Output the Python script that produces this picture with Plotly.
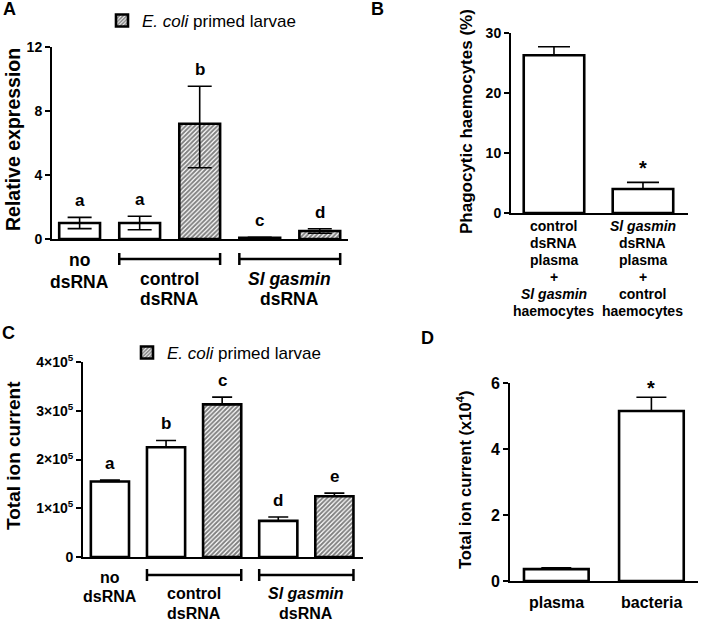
import plotly.graph_objects as go

W, H = 701, 621
FONT = "Arial, Liberation Sans, sans-serif"

# ---------------- data ----------------
# Panel A: relative expression
a_values = [1.0, 1.0, 7.2, 0.08, 0.5]
a_err_plus = [0.35, 0.42, 2.35, 0.02, 0.14]
a_err_minus = [0.35, 0.42, 2.75, 0.02, 0.14]
a_hatched = [False, False, True, False, True]
a_letters = ["a", "a", "b", "c", "d"]
a_ticks = [0, 4, 8, 12]

# Panel B: phagocytic haemocytes (%)
b_values = [26.3, 4.0]
b_err = [1.4, 1.1]
b_marks = ["", "*"]
b_labels = [
    ["control", "dsRNA", "plasma", "+", "<i>Sl gasmin</i>", "haemocytes"],
    ["<i>Sl gasmin</i>", "dsRNA", "plasma", "+", "control", "haemocytes"],
]
b_ticks = [0, 10, 20, 30]

# Panel C: total ion current
c_values = [1.55e5, 2.25e5, 3.13e5, 0.74e5, 1.245e5]
c_err = [0.03e5, 0.14e5, 0.15e5, 0.08e5, 0.065e5]
c_hatched = [False, False, True, False, True]
c_letters = ["a", "b", "c", "d", "e"]
c_ticks = [0, 1e5, 2e5, 3e5, 4e5]
c_ticktext = ["0", "1×10<sup>5</sup>", "2×10<sup>5</sup>", "3×10<sup>5</sup>", "4×10<sup>5</sup>"]

# Panel D: total ion current (x10^4)
d_values = [0.36, 5.15]
d_err = [0.04, 0.42]
d_marks = ["", "*"]
d_labels = ["plasma", "bacteria"]
d_ticks = [0, 2, 4, 6]

# group labels (panels A and C)
group_labels = [
    (0, ["no", "dsRNA"], False),
    (1.5, ["control", "dsRNA"], True),
    (3.5, ["<i>Sl gasmin</i>", "dsRNA"], True),
]
legend_text = "<i>E. coli</i> primed larvae"

# ---------------- helpers ----------------
def fx(px):
    return px / W

def fy(py):
    return 1 - py / H

BAR_W = 0.68
fig = go.Figure()

def add_bars(xref, yref, values, errp, errm, hatched, cap, legend=None):
    idx = list(range(len(values)))
    for hatch in (False, True):
        sel = [i for i in idx if hatched[i] == hatch]
        if not sel:
            continue
        marker = dict(color="white", line=dict(color="black", width=2.6))
        if hatch:
            marker["pattern"] = dict(shape="/", fgcolor="black", bgcolor="white",
                                     size=3.2, solidity=0.6)
        fig.add_trace(go.Bar(
            x=sel, y=[values[i] for i in sel], width=BAR_W,
            xaxis=xref, yaxis=yref, marker=marker,
            error_y=dict(type="data", symmetric=False,
                         array=[errp[i] for i in sel],
                         arrayminus=[errm[i] for i in sel],
                         color="black", thickness=1.6, width=cap),
            name=legend_text, hoverinfo="skip",
            showlegend=bool(hatch and legend), legend=legend if legend else "legend",
        ))

add_bars("x", "y", a_values, a_err_plus, a_err_minus, a_hatched, 12, legend="legend")
add_bars("x2", "y2", b_values, b_err, [0] * 2, [False, False], 16)
add_bars("x3", "y3", c_values, c_err, [0] * 5, c_hatched, 10, legend="legend2")
add_bars("x4", "y4", d_values, d_err, [0] * 2, [False, False], 15)

def xaxis(dom, rng, anchor):
    return dict(domain=[fx(dom[0]), fx(dom[1])], range=rng, anchor=anchor,
                showline=True, linewidth=2, linecolor="black", ticks="",
                showticklabels=False, showgrid=False, zeroline=False, fixedrange=True)

def yaxis(dom, rng, anchor, tickvals, size, ticktext=None):
    d = dict(domain=[fy(dom[1]), fy(dom[0])], range=rng, anchor=anchor,
             showline=True, linewidth=2, linecolor="black", ticks="outside",
             ticklen=5, tickwidth=2, tickcolor="black", tickvals=tickvals,
             tickfont=dict(family=FONT, size=size, color="black", weight="bold"),
             showgrid=False, zeroline=False, fixedrange=True, automargin=False)
    if ticktext:
        d["ticktext"] = ticktext
    return d

fig.update_layout(
    xaxis=xaxis((52, 348), [-0.46, 4.47], "y"),
    yaxis=yaxis((47, 239), [0, 12], "x", a_ticks, 14),
    xaxis2=xaxis((511, 688), [-0.483, 1.506], "y2"),
    yaxis2=yaxis((33, 213), [0, 30], "x2", b_ticks, 14),
    xaxis3=xaxis((83, 363), [-0.48, 4.51], "y3"),
    yaxis3=yaxis((362, 557), [0, 4e5], "x3", c_ticks, 14, c_ticktext),
    xaxis4=xaxis((510, 698), [-0.487, 1.49], "y4"),
    yaxis4=yaxis((383, 581), [0, 6], "x4", d_ticks, 16),
)

ann = []
def text(x, y, s, size, bold=True, xref="paper", yref="paper", angle=0,
         xanchor="center", yanchor="middle", **kw):
    ann.append(dict(x=x, y=y, xref=xref, yref=yref, text=s, showarrow=False,
                    textangle=angle, xanchor=xanchor, yanchor=yanchor,
                    font=dict(family=FONT, size=size, color="black",
                              weight="bold" if bold else "normal"), **kw))

# panel letters
text(fx(9), fy(9), "A", 18)
text(fx(378), fy(9), "B", 18)
text(fx(8), fy(333), "C", 18)
text(fx(428), fy(338), "D", 18)

# axis titles
text(fx(13), fy(140), "Relative expression", 19.5, angle=-90)
text(fx(467), fy(121), "Phagocytic haemocytes (%)", 17, angle=-90)
text(fx(13), fy(456), "Total ion current", 19, angle=-90)
text(fx(464), fy(480), "Total ion current (x10<sup>4</sup>)", 16.5, angle=-90)

# significance letters / stars above error bars
for i, (v, e, s) in enumerate(zip(a_values, a_err_plus, a_letters)):
    text(i, v + e, s, 17, xref="x", yref="y", yanchor="bottom", yshift=5)
for i, (v, e, s) in enumerate(zip(c_values, c_err, c_letters)):
    text(i, v + e, s, 17, xref="x3", yref="y3", yanchor="bottom", yshift=5)
for i, (v, e, s) in enumerate(zip(b_values, b_err, b_marks)):
    if s:
        text(i, v + e, s, 20, xref="x2", yref="y2", yshift=14)
for i, (v, e, s) in enumerate(zip(d_values, d_err, d_marks)):
    if s:
        text(i, v + e, s, 20, xref="x4", yref="y4", yshift=9)

# group labels under A and C, with brackets
shapes = []
def bracket(xref, i0, i1, py):
    x0, x1 = i0 - BAR_W / 2, i1 + BAR_W / 2
    ln = dict(color="black", width=2.5)
    shapes.append(dict(type="line", xref=xref, yref="paper", x0=x0, x1=x1,
                       y0=fy(py), y1=fy(py), line=ln))
    for xe in (x0, x1):
        shapes.append(dict(type="line", xref=xref, yref="paper", x0=xe, x1=xe,
                           y0=fy(py - 6), y1=fy(py + 6), line=ln))

for xc, lines, br in group_labels:
    # panel A
    ys = (260, 282) if not br else (279, 299)
    for ln, yy in zip(lines, ys):
        text(xc, fy(yy), ln, 17.5, xref="x")
    if br:
        bracket("x", int(xc - 0.5), int(xc + 0.5), 259)
    # panel C
    ys = (577, 596) if not br else (593, 613)
    for ln, yy in zip(lines, ys):
        text(xc, fy(yy), ln, 16, xref="x3")
    if br:
        bracket("x3", int(xc - 0.5), int(xc + 0.5), 575)

# panel B category labels (line by line)
for i, lines in enumerate(b_labels):
    for k, ln in enumerate(lines):
        text(i, fy(226 + 17 * k), ln, 14, xref="x2")

# panel D category labels
for i, s in enumerate(d_labels):
    text(i, fy(602), s, 16, xref="x4")

fig.update_layout(
    width=W, height=H,
    margin=dict(l=0, r=0, t=0, b=0, pad=0, autoexpand=False),
    paper_bgcolor="white", plot_bgcolor="white",
    barmode="overlay", annotations=ann, shapes=shapes,
    legend=dict(x=fx(102), y=fy(21), xanchor="left", yanchor="middle",
                font=dict(family=FONT, size=17, color="black"),
                bgcolor="rgba(0,0,0,0)"),
    legend2=dict(x=fx(127), y=fy(353), xanchor="left", yanchor="middle",
                 font=dict(family=FONT, size=17, color="black"),
                 bgcolor="rgba(0,0,0,0)"),
)

fig.write_html("out.html", config={"displayModeBar": False},
               post_script="document.body.style.margin='0';document.body.style.overflow='hidden';")
